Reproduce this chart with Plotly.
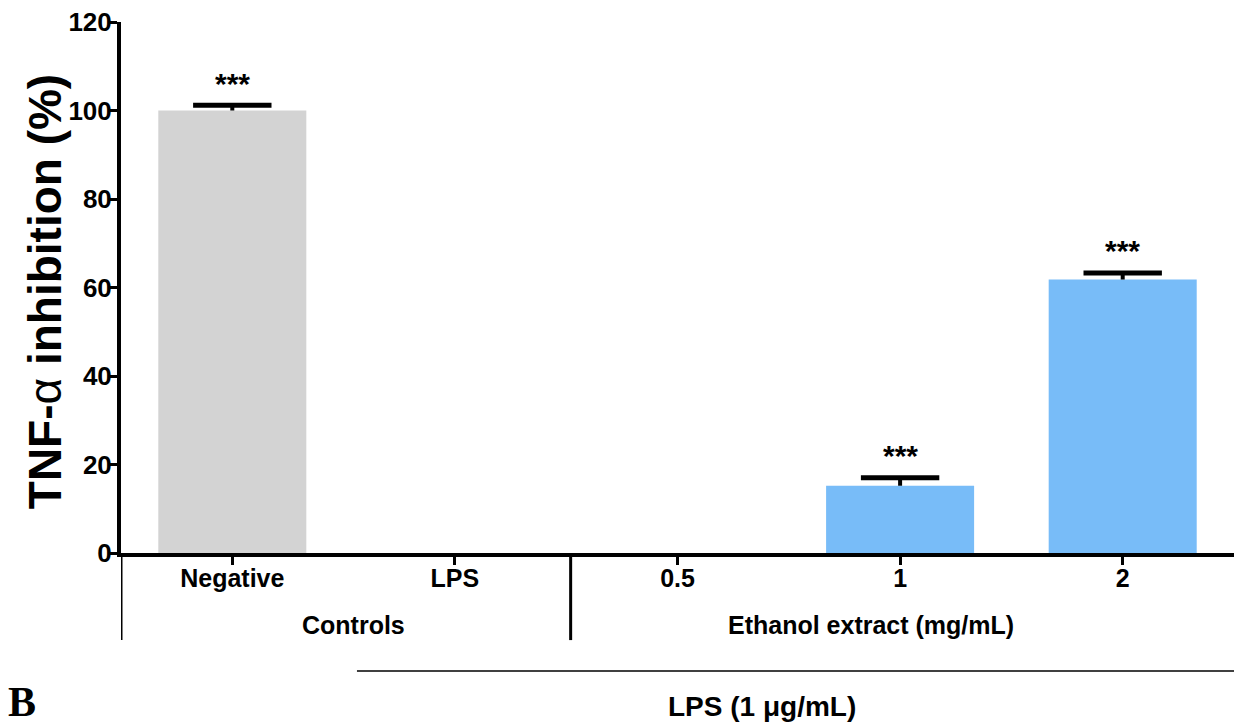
import plotly.graph_objects as go

categories = ["Negative", "LPS", "0.5", "1", "2"]
values = [100.0, 0.0, 0.0, 15.2, 61.8]
errors = [1.2, 0.0, 0.0, 1.8, 1.5]
bar_colors = ["#D3D3D3", "#78BCF8", "#78BCF8", "#78BCF8", "#78BCF8"]
significance = ["***", "", "", "***", "***"]
y_ticks = [0, 20, 40, 60, 80, 100, 120]
groups = ["Controls", "Ethanol extract (mg/mL)"]
group_label_x = [0.545, 2.87]
group_edges = [-0.5, 1.52]
treatment_label = "LPS (1 \u03bcg/mL)"
treatment_span = (0.56, 4.6)
treatment_label_x = 2.38
panel_label = "B"

FONT = "Liberation Sans, Arial, sans-serif"
x_idx = list(range(len(categories)))

fig = go.Figure()
fig.add_trace(go.Bar(
    x=x_idx, y=values, width=0.665,
    marker=dict(color=bar_colors, line=dict(width=0)),
    error_y=dict(type="data", array=errors, arrayminus=[0] * len(errors),
                 symmetric=False, color="black", thickness=4, width=0,
                 visible=True),
    showlegend=False, hoverinfo="skip",
))

# error bar caps (upper only)
cap_y = [v + e if e > 0 else None for v, e in zip(values, errors)]
fig.add_trace(go.Scatter(
    x=x_idx, y=cap_y, mode="markers",
    marker=dict(symbol="line-ew", size=56, color="black",
                line=dict(color="black", width=5)),
    showlegend=False, hoverinfo="skip", cliponaxis=False,
))

annotations = []
for i, (v, e, s) in enumerate(zip(values, errors, significance)):
    if s:
        annotations.append(dict(x=i, y=v + e, xref="x", yref="y", text=f"<b>{s}</b>",
                                showarrow=False, yanchor="middle", yshift=22,
                                font=dict(family=FONT, size=30, color="black")))

for g, gx in zip(groups, group_label_x):
    annotations.append(dict(x=gx, y=-0.136, xref="x", yref="paper",
                            text=f"<b>{g}</b>", showarrow=False, yanchor="middle",
                            font=dict(family=FONT, size=25, color="black")))

annotations.append(dict(x=treatment_label_x, y=-0.29, xref="x", yref="paper",
                        text=f"<b>{treatment_label}</b>", showarrow=False, yanchor="middle",
                        font=dict(family=FONT, size=28, color="black")))

annotations.append(dict(x=-0.0683, y=0.493, xref="paper", yref="paper",
                        text="<b>TNF-</b><span style='font-weight:normal'>\u03b1</span><b> inhibition (%)</b>",
                        showarrow=False, textangle=-90, xanchor="center", yanchor="middle",
                        font=dict(family=FONT, size=46, color="black")))

annotations.append(dict(x=-0.1037, y=-0.281, xref="paper", yref="paper",
                        text=f"<b>{panel_label}</b>", showarrow=False, xanchor="left", yanchor="middle",
                        font=dict(family="Liberation Serif, Times New Roman, serif", size=42, color="black")))

shapes = []
for gx in group_edges:
    shapes.append(dict(type="line", xref="x", yref="paper", x0=gx, x1=gx, y0=0, y1=-0.164,
                       line=dict(color="black", width=3)))
shapes.append(dict(type="line", xref="x", yref="paper", x0=treatment_span[0], x1=treatment_span[1],
                   y0=-0.222, y1=-0.222, line=dict(color="black", width=1.5)))

fig.update_layout(
    width=1234, height=722,
    margin=dict(l=121, r=0, t=22, b=169),
    paper_bgcolor="white", plot_bgcolor="white",
    annotations=annotations, shapes=shapes,
)
fig.update_xaxes(
    range=[-0.5, 4.5], tickmode="array", tickvals=x_idx,
    ticktext=[f"<b>{c}</b>" for c in categories],
    showline=True, linecolor="black", linewidth=4,
    ticks="outside", ticklen=8, tickwidth=3, tickcolor="black",
    tickfont=dict(family=FONT, size=25, color="black"),
    ticklabelstandoff=-8,
    showgrid=False, zeroline=False, fixedrange=True, automargin=False,
)
fig.update_yaxes(
    range=[0, 120], tickmode="array", tickvals=y_ticks,
    ticktext=[f"<b>{t}</b>" for t in y_ticks],
    showline=True, linecolor="black", linewidth=4,
    ticks="outside", ticklen=7, tickwidth=3, tickcolor="black",
    tickfont=dict(family=FONT, size=26, color="black"),
    ticklabelstandoff=-7,
    showgrid=False, zeroline=False, fixedrange=True, automargin=False,
)

fig.write_html("out.html", config={"displayModeBar": False},
               post_script="document.body.style.margin='0';document.body.style.overflow='hidden';")
